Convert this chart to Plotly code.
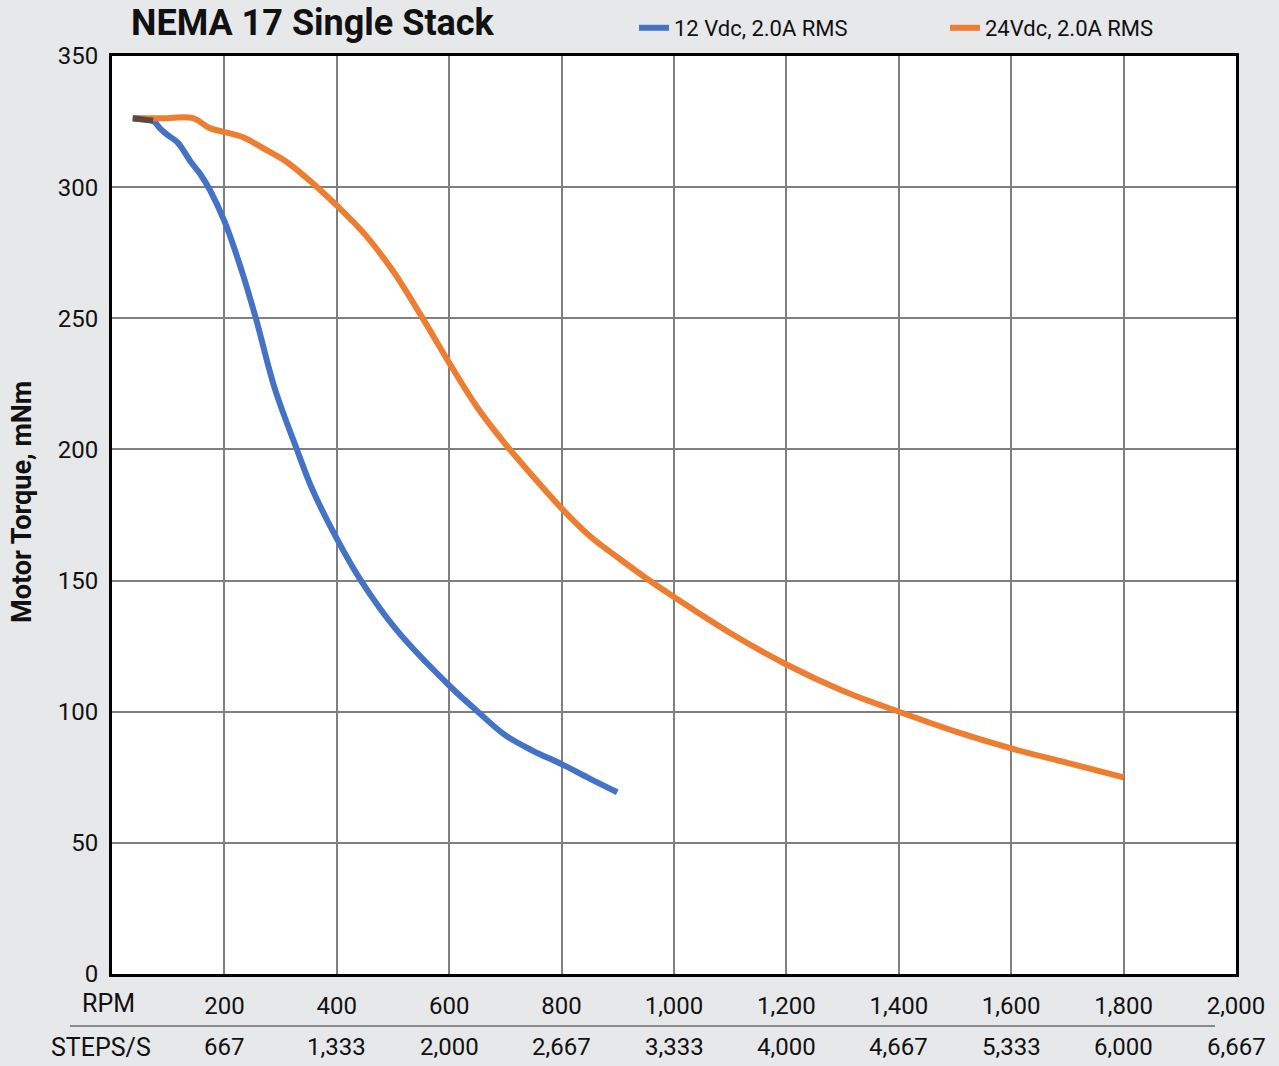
import plotly.graph_objects as go

# Speed (RPM) vs. torque (mNm) for a NEMA 17 single-stack motor
rpm_12v = [37, 73, 85, 98, 117, 139, 157, 174, 200, 231, 256, 290, 329, 356, 400, 443,
           507, 600, 651, 700, 750, 800, 850, 899]
torque_12v = [326.2, 325.3, 322.5, 320, 317, 310, 305, 299, 287, 268, 250, 223, 200, 185,
              166, 150, 131, 110, 100, 91, 85, 80, 74.5, 69.3]

rpm_24v = [37, 90, 144, 174, 200, 233, 276, 311, 365, 400, 450, 500, 550, 600, 650, 700,
           750, 800, 850, 900, 950, 1000, 1100, 1200, 1300, 1400, 1500, 1600, 1700, 1800]
torque_24v = [326.3, 326.3, 326.3, 322.5, 321, 319, 314, 309.6, 300, 293, 282, 268, 251,
              233, 216, 202, 189.5, 177.5, 167, 158.8, 151, 143.7, 130, 118, 108, 100, 92.5,
              86, 80.5, 75]

series_names = ["12 Vdc, 2.0A RMS", "24Vdc, 2.0A RMS"]

rpm_ticks = [200, 400, 600, 800, 1000, 1200, 1400, 1600, 1800, 2000]
y_ticks = [0, 50, 100, 150, 200, 250, 300, 350]
STEPS_PER_REV = 200

BLUE = "#4472C4"
ORANGE = "#ED7D31"
FONT = "Roboto"
INK = "#111111"

# plot-area geometry in page pixels
W, H = 1279, 1066
L, R, T, B = 112, 43, 56, 92
PW, PH = W - L - R, H - T - B


def px_x(px):
    return (px - L) / PW


def px_y(py):
    return (H - B - py) / PH


def fmt(v):
    return f"{v:,}"


fig = go.Figure()
fig.add_trace(go.Scatter(
    x=rpm_12v, y=torque_12v, name=series_names[0], mode="lines",
    line=dict(color=BLUE, width=6, shape="spline", smoothing=1.0),
))
fig.add_trace(go.Scatter(
    x=rpm_24v, y=torque_24v, name=series_names[1], mode="lines",
    line=dict(color=ORANGE, width=6, shape="spline", smoothing=1.0),
))
# where both curves coincide at low speed they blend into a dark shade
fig.add_trace(go.Scatter(
    x=rpm_12v[:2], y=[torque_24v[0], torque_12v[1]], mode="lines", showlegend=False,
    line=dict(color="#5b4a40", width=6), hoverinfo="skip",
))

annotations = []
# second row of x labels: step rate for each RPM tick
for r in rpm_ticks:
    annotations.append(dict(
        x=r, y=px_y(1047), xref="x", yref="paper", text=fmt(round(r * STEPS_PER_REV / 60)),
        showarrow=False, font=dict(family=FONT, size=24, color=INK),
        xanchor="center", yanchor="middle",
    ))
annotations.append(dict(
    x=px_x(108), y=px_y(1003), xref="paper", yref="paper", text="RPM", showarrow=False,
    font=dict(family=FONT, size=25, color=INK), xanchor="center", yanchor="middle",
))
annotations.append(dict(
    x=px_x(101), y=px_y(1047), xref="paper", yref="paper", text="STEPS/S", showarrow=False,
    font=dict(family=FONT, size=25, color=INK), xanchor="center", yanchor="middle",
))
annotations.append(dict(
    x=px_x(129), y=px_y(23), xref="paper", yref="paper", text="<b>NEMA 17 Single Stack</b>",
    showarrow=False, font=dict(family=FONT, size=36, color=INK),
    xanchor="left", yanchor="middle",
))
# vertical axis title
annotations.append(dict(
    x=px_x(22), y=px_y(502), xref="paper", yref="paper", text="<b>Motor Torque, mNm</b>",
    showarrow=False, textangle=-90, font=dict(family=FONT, size=27, color=INK),
    xanchor="center", yanchor="middle",
))

fig.update_layout(
    width=W, height=H,
    margin=dict(l=L, r=R, t=T, b=B, autoexpand=False),
    paper_bgcolor="#e7e8ea",
    plot_bgcolor="white",
    font=dict(family=FONT, size=23, color=INK),
    showlegend=True,
    legend=dict(
        orientation="h", x=px_x(634), y=px_y(28),
        xanchor="left", yanchor="middle", bgcolor="rgba(0,0,0,0)",
        font=dict(family=FONT, size=22, color=INK),
        entrywidth=266, entrywidthmode="pixels", itemwidth=30,
    ),
    annotations=annotations,
    shapes=[dict(
        type="line", xref="paper", yref="paper",
        x0=px_x(70), x1=px_x(1215), y0=px_y(1026), y1=px_y(1026),
        line=dict(color="#8a8a8a", width=2),
    )],
)

fig.update_xaxes(
    range=[0, 2000], tickvals=rpm_ticks, ticktext=[fmt(r) for r in rpm_ticks],
    showgrid=True, gridcolor="#7f7f7f", gridwidth=1.5,
    showline=True, linecolor="black", linewidth=3, mirror=True,
    ticks="", ticklabelstandoff=8, zeroline=False,
    tickfont=dict(family=FONT, size=24, color=INK),
)
fig.update_yaxes(
    range=[0, 350], tickvals=y_ticks,
    showgrid=True, gridcolor="#7f7f7f", gridwidth=1.5,
    showline=True, linecolor="black", linewidth=3, mirror=True,
    ticks="", ticklabelstandoff=6, zeroline=False,
    tickfont=dict(family=FONT, size=24, color=INK),
)

fig.write_html("out.html")
